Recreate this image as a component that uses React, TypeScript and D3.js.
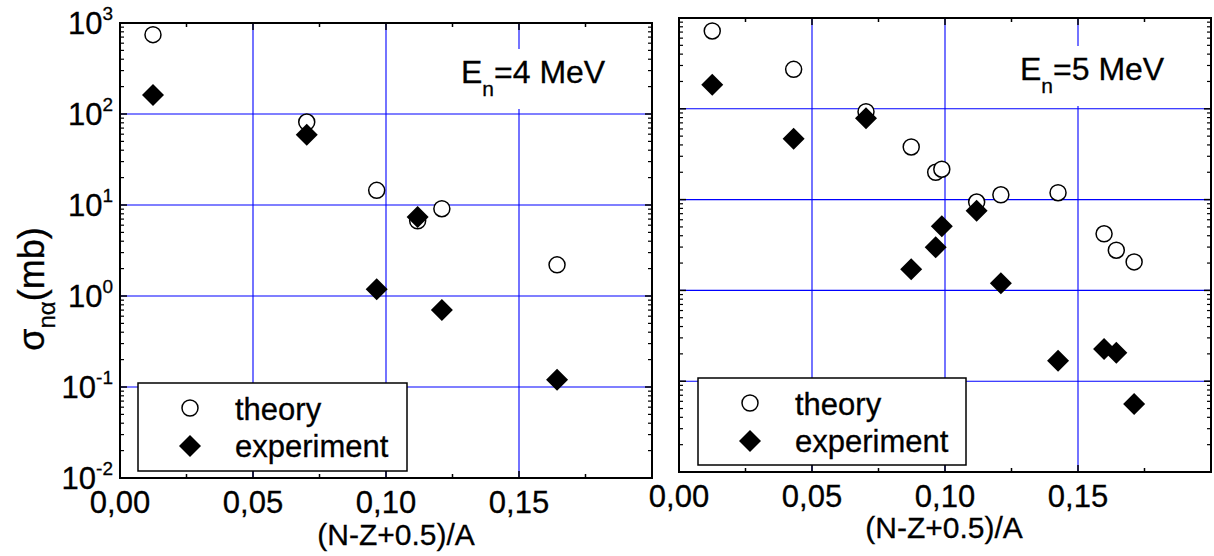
import React from "react";
import * as d3 from "d3";

// ---------- data ----------
const theory4X = [0.0124, 0.0702, 0.0965, 0.1119, 0.121, 0.1643];
const theory4Y = [744, 81.6, 14.5, 6.7, 9.1, 2.2];
const exp4X = [0.0124, 0.0702, 0.1119, 0.0965, 0.121, 0.1643];
const exp4Y = [162, 59, 7.4, 1.19, 0.7, 0.12];

const theory5X = [0.0125, 0.0431, 0.0703, 0.0873, 0.0965, 0.0988, 0.1119, 0.121, 0.1425, 0.1598, 0.1644, 0.1711];
const theory5Y = [720, 272, 93, 38, 20, 21.6, 9.4, 11.3, 11.9, 4.2, 2.77, 2.06];
const exp5X = [0.0125, 0.0431, 0.0703, 0.0873, 0.0965, 0.0988, 0.1119, 0.121, 0.1425, 0.1598, 0.1644, 0.1711];
const exp5Y = [184, 46.9, 78.5, 1.71, 2.98, 5.1, 7.55, 1.2, 0.168, 0.226, 0.206, 0.056];

const xTickValues = [0, 0.05, 0.1, 0.15];
const xTickLabels = ["0,00", "0,05", "0,10", "0,15"];
const yDecades = [-2, -1, 0, 1, 2, 3];
const legendLabels = ["theory", "experiment"];
const panelTitles = ["4", "5"];
const xTitle = "(N-Z+0.5)/A";

const FONT = "'Liberation Sans', Arial, Helvetica, sans-serif";
const GRID = "#0000ff";
const TS = { stroke: "#000", strokeWidth: 0.3 };

type Panel = {
  x0: number; x1: number; y0: number; y1: number;
  tX: number[]; tY: number[]; eX: number[]; eY: number[];
  title: string; titleX: number; titleY: number;
  legX: number; legY: number; legW: number; legH: number;
  yLabels: boolean; xTitleX: number; xTitleY: number; tickLabelY: number;
};

const panels: Panel[] = [
  {
    x0: 120, x1: 652, y0: 23, y1: 478,
    tX: theory4X, tY: theory4Y, eX: exp4X, eY: exp4Y,
    title: panelTitles[0], titleX: 461, titleY: 83,
    legX: 138, legY: 383, legW: 269, legH: 88,
    yLabels: true, xTitleX: 396, xTitleY: 545, tickLabelY: 513,
  },
  {
    x0: 679, x1: 1211, y0: 18, y1: 472,
    tX: theory5X, tY: theory5Y, eX: exp5X, eY: exp5Y,
    title: panelTitles[1], titleX: 1020, titleY: 80,
    legX: 698, legY: 378, legW: 268, legH: 87,
    yLabels: false, xTitleX: 944, xTitleY: 538, tickLabelY: 507,
  },
];

function diamond(cx: number, cy: number, r: number) {
  return `M${cx},${cy - r}L${cx + r},${cy}L${cx},${cy + r}L${cx - r},${cy}Z`;
}

function PanelView({ p }: { p: Panel }) {
  const x = d3.scaleLinear().domain([0, 0.2]).range([p.x0, p.x1]);
  const y = d3.scaleLog().domain([0.01, 1000]).range([p.y1, p.y0]);

  const xMajor = d3.range(0, 0.2001, 0.05);
  const xMinor = d3.range(0.025, 0.2, 0.05);
  const yMajor = yDecades.map((d) => Math.pow(10, d));
  const yMinor: number[] = [];
  yDecades.slice(0, -1).forEach((d) => {
    for (let k = 2; k <= 9; k++) yMinor.push(k * Math.pow(10, d));
  });

  const gridX = [0.05, 0.1, 0.15];
  const gridY = [0.1, 1, 10, 100];

  return (
    <g>
      {gridY.map((v) => (
        <line key={"gy" + v} x1={p.x0} x2={p.x1} y1={y(v)} y2={y(v)} stroke={GRID} strokeWidth={1.1} />
      ))}
      {gridX.map((v) => (
        <line key={"gx" + v} x1={x(v)} x2={x(v)} y1={p.y0} y2={p.y1} stroke={GRID} strokeWidth={1.1} />
      ))}

      <rect x={p.titleX - 6} y={p.titleY - 34} width={152} height={60} fill="white" />
      <text x={p.titleX} y={p.titleY} fontFamily={FONT} fontSize={32} fill="#000" {...TS}>
        E<tspan fontSize={21} dy={13}>n</tspan>
        <tspan dy={-13}>={p.title} MeV</tspan>
      </text>

      {xMajor.map((v) => (
        <g key={"xM" + v}>
          <line x1={x(v)} x2={x(v)} y1={p.y1} y2={p.y1 - 7} stroke="#000" strokeWidth={1.5} />
          <line x1={x(v)} x2={x(v)} y1={p.y0} y2={p.y0 + 7} stroke="#000" strokeWidth={1.5} />
        </g>
      ))}
      {xMinor.map((v) => (
        <g key={"xm" + v}>
          <line x1={x(v)} x2={x(v)} y1={p.y1} y2={p.y1 - 4} stroke="#000" strokeWidth={1.5} />
          <line x1={x(v)} x2={x(v)} y1={p.y0} y2={p.y0 + 4} stroke="#000" strokeWidth={1.5} />
        </g>
      ))}
      {yMajor.map((v) => (
        <g key={"yM" + v}>
          <line x1={p.x0} x2={p.x0 + 7} y1={y(v)} y2={y(v)} stroke="#000" strokeWidth={1.5} />
          <line x1={p.x1} x2={p.x1 - 7} y1={y(v)} y2={y(v)} stroke="#000" strokeWidth={1.5} />
        </g>
      ))}
      {yMinor.map((v) => (
        <g key={"ym" + v}>
          <line x1={p.x0} x2={p.x0 + 4} y1={y(v)} y2={y(v)} stroke="#000" strokeWidth={1.2} />
          <line x1={p.x1} x2={p.x1 - 4} y1={y(v)} y2={y(v)} stroke="#000" strokeWidth={1.2} />
        </g>
      ))}

      <rect x={p.x0} y={p.y0} width={p.x1 - p.x0} height={p.y1 - p.y0} fill="none" stroke="#000" strokeWidth={2} />

      {xTickValues.map((v, i) => (
        <text key={"xl" + v} x={x(v)} y={p.tickLabelY} textAnchor="middle" fontFamily={FONT} fontSize={31} fill="#000" {...TS}>
          {xTickLabels[i]}
        </text>
      ))}
      {p.yLabels &&
        yDecades.map((d) => (
          <text key={"yl" + d} x={113} y={y(Math.pow(10, d)) + 11} textAnchor="end" fontFamily={FONT} fontSize={31} fill="#000" {...TS}>
            10<tspan fontSize={19} dy={-14}>{d}</tspan>
          </text>
        ))}

      <text x={p.xTitleX} y={p.xTitleY} textAnchor="middle" fontFamily={FONT} fontSize={30} fill="#000" {...TS}>
        {xTitle}
      </text>

      {p.tX.map((v, i) => (
        <circle key={"t" + i} cx={x(v)} cy={y(p.tY[i])} r={8} fill="white" stroke="#000" strokeWidth={1.5} />
      ))}
      {p.eX.map((v, i) => (
        <path key={"e" + i} d={diamond(x(v), y(p.eY[i]), 11)} fill="#000" />
      ))}

      <rect x={p.legX} y={p.legY} width={p.legW} height={p.legH} fill="white" stroke="#000" strokeWidth={1.5} />
      <circle cx={p.legX + 52} cy={p.legY + 25} r={8} fill="white" stroke="#000" strokeWidth={1.5} />
      <text x={p.legX + 97} y={p.legY + 37} fontFamily={FONT} fontSize={31} fill="#000" {...TS}>{legendLabels[0]}</text>
      <path d={diamond(p.legX + 52, p.legY + 63, 11)} fill="#000" />
      <text x={p.legX + 97} y={p.legY + 74} fontFamily={FONT} fontSize={31} fill="#000" {...TS}>{legendLabels[1]}</text>
    </g>
  );
}

export default function App() {
  return (
    <svg width={1214} height={556} style={{ position: "absolute", left: 0, top: 0, background: "white" }}>
      <rect x={0} y={0} width={1214} height={556} fill="white" />
      {panels.map((p, i) => (
        <PanelView key={i} p={p} />
      ))}
      <text transform="translate(44,289) rotate(-90)" textAnchor="middle" fontFamily={FONT} fontSize={36} fill="#000" {...TS}>
        σ<tspan fontSize={24} dy={11}>nα</tspan>
        <tspan dy={-11}>(mb)</tspan>
      </text>
    </svg>
  );
}
